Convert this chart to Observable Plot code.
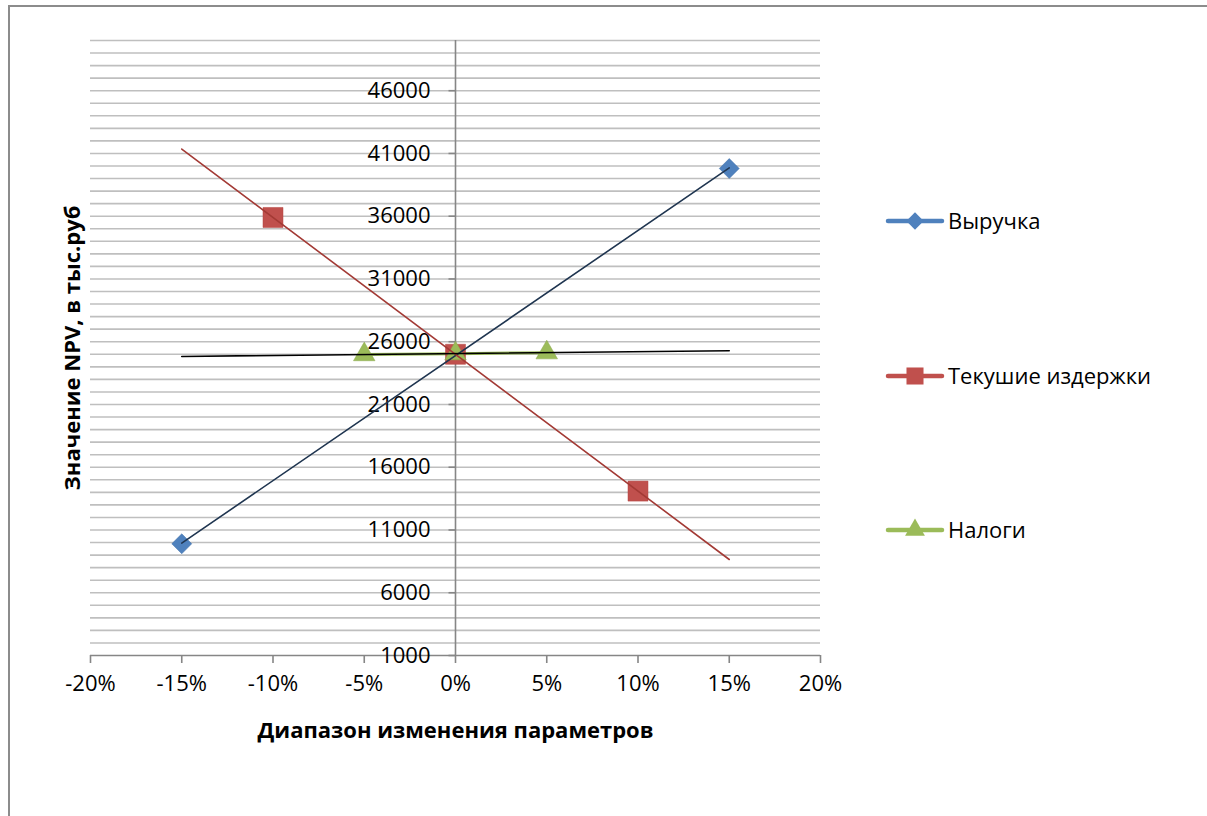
<!DOCTYPE html>
<html lang="ru">
<head>
<meta charset="utf-8">
<script src="https://cdn.jsdelivr.net/npm/d3@7"></script>
<script src="https://cdn.jsdelivr.net/npm/@observablehq/plot@0.6"></script>
<style>
  html, body { margin: 0; padding: 0; background: #fff; overflow: hidden; }
  #wrap { position: relative; width: 1207px; height: 816px; }
  #frame { position: absolute; left: 8px; top: 5px; width: 1300px; height: 900px;
           border: 2px solid #8c8c8c; box-sizing: border-box; }
  #chart { position: absolute; left: 0; top: 0; }
</style>
</head>
<body>
<div id="wrap">
  <div id="frame"></div>
  <div id="chart"></div>
</div>
<script>
// Sensitivity of NPV (thousand rubles) to changes in the key parameters
const xTicks = [-0.2, -0.15, -0.1, -0.05, 0, 0.05, 0.1, 0.15, 0.2];
const yLabels = [1000, 6000, 11000, 16000, 21000, 26000, 31000, 36000, 41000, 46000];
const yGrid = d3.range(2000, 50001, 1000);

const revenueX = [-0.15, 0, 0.15];
const revenueNPV = [9900, 25000, 39800];

const costsX = [-0.1, 0, 0.1];
const costsNPV = [35900, 25000, 14100];

const taxesX = [-0.05, 0, 0.05];
const taxesNPV = [24980, 25050, 25130];

const trendSpan = [-0.15, 0.15];

const seriesNames = ["Выручка", "Текушие издержки", "Налоги"];
const seriesColors = ["#4F81BD", "#C0504D", "#9BBB59"];

const FONT = "Open Sans, sans-serif";
const FS = 22;

const rows = (xs, ys) => xs.map((x, i) => ({x, y: ys[i]}));
const revenue = rows(revenueX, revenueNPV);
const costs = rows(costsX, costsNPV);
const taxes = rows(taxesX, taxesNPV);

// least-squares linear trend, evaluated over the trend span
function trend(data) {
  const mx = d3.mean(data, d => d.x), my = d3.mean(data, d => d.y);
  const b = d3.sum(data, d => (d.x - mx) * (d.y - my)) / d3.sum(data, d => (d.x - mx) ** 2);
  return trendSpan.map(x => ({x, y: my + b * (x - mx)}));
}

// short tick to the left of the vertical axis
const leftTick = {draw(ctx) { ctx.moveTo(-7, 0); ctx.lineTo(0, 0); }};

const pct = d => `${Math.round(d * 100)}%`;

const chart = Plot.plot({
  width: 1207,
  height: 816,
  marginLeft: 90,
  marginRight: 387,
  marginTop: 40,
  marginBottom: 161,
  style: {fontFamily: FONT, background: "transparent"},
  x: {domain: [-0.2, 0.2], axis: null},
  y: {domain: [1000, 50000], axis: null},
  marks: [
    Plot.ruleY(yGrid, {stroke: "#bfbfbf", strokeWidth: 1.6}),
    Plot.ruleY([1000], {stroke: "#868686", strokeWidth: 1.6}),
    Plot.ruleX([0], {y1: 1000, y2: 50000, stroke: "#868686", strokeWidth: 1.6}),
    Plot.dot(yLabels, {x: () => 0, y: d => d, symbol: leftTick, stroke: "#868686", strokeWidth: 1.6, r: 5}),
    Plot.text(yLabels, {x: () => 0, y: d => d, text: d => String(d), textAnchor: "end", dx: -25,
      fontSize: FS, fontFamily: FONT, fill: "#000"}),
    Plot.axisX({ticks: xTicks, tickFormat: pct, tickSize: 8, tickPadding: 12, label: null,
      stroke: "#868686", strokeWidth: 1.6, fill: "#000", fontSize: FS, fontFamily: FONT}),
    Plot.text(["Диапазон изменения параметров"], {frameAnchor: "bottom", textAnchor: "middle",
      lineAnchor: "middle", dy: 75, fontSize: FS, fontWeight: "bold", fontFamily: FONT, fill: "#000"}),
    Plot.text(["Значение NPV, в тыс.руб"], {frameAnchor: "left", textAnchor: "middle",
      lineAnchor: "middle", dx: -18, rotate: -90,
      fontSize: FS, fontWeight: "bold", fontFamily: FONT, fill: "#000"}),
    // series lines and markers
    Plot.line(taxes, {x: "x", y: "y", stroke: seriesColors[2], strokeWidth: 3}),
    Plot.dot(revenue, {x: "x", y: "y", symbol: "diamond2", r: 9, fill: seriesColors[0], stroke: "#3f6fa8", strokeWidth: 0.5}),
    Plot.dot(costs, {x: "x", y: "y", symbol: "square", r: 11.3, fill: seriesColors[1], stroke: "#b44440", strokeWidth: 0.5}),
    Plot.dot(taxes, {x: "x", y: "y", symbol: "triangle", r: 8, fill: seriesColors[2], stroke: "#8aa94c", strokeWidth: 0.5}),
    // linear trend lines
    Plot.line(trend(revenue), {x: "x", y: "y", stroke: "#1f3550", strokeWidth: 1.6}),
    Plot.line(trend(costs), {x: "x", y: "y", stroke: "#a33a35", strokeWidth: 1.6}),
    Plot.line(trend(taxes), {x: "x", y: "y", stroke: "#000", strokeWidth: 1.6})
  ]
});
document.getElementById("chart").append(chart);

// legend on the right, one entry per series
const svg = d3.select(chart);
const legendY = [221, 376, 530];
const legendSymbols = [d3.symbolDiamond2, d3.symbolSquare, d3.symbolTriangle];
const legendSizes = [190, 290, 170];
const lg = svg.append("g").attr("class", "legend");
seriesNames.forEach((name, i) => {
  const g = lg.append("g").attr("transform", `translate(888,${legendY[i]})`);
  g.append("line").attr("x1", 0).attr("x2", 54).attr("y1", 0).attr("y2", 0)
    .attr("stroke", seriesColors[i]).attr("stroke-width", 4.5).attr("stroke-linecap", "round");
  g.append("path").attr("transform", "translate(27,0)")
    .attr("d", d3.symbol(legendSymbols[i], legendSizes[i])())
    .attr("fill", seriesColors[i]);
  g.append("text").attr("x", 60).attr("y", 0).attr("dy", "0.35em").attr("text-anchor", "start")
    .attr("font-family", FONT).attr("font-size", FS).attr("fill", "#000").text(name);
});
</script>
</body>
</html>
